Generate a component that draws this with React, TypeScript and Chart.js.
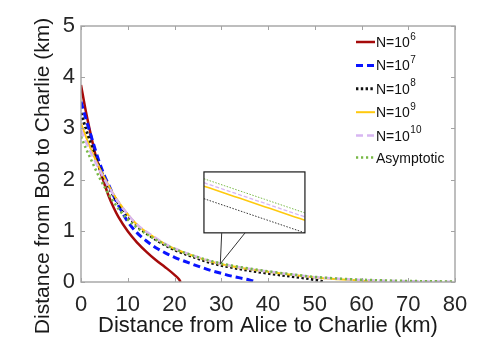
import React, { useEffect, useRef } from "react";
import { Chart, registerables } from "chart.js";

Chart.register(...registerables);

// ---- data ----
const xTickValues = [0, 10, 20, 30, 40, 50, 60, 70, 80];
const yTickValues = [0, 1, 2, 3, 4, 5];

const redX = [0, 1, 2, 3, 4, 5, 6, 7, 8, 10, 12, 14, 16, 18, 20, 21, 21.3];
const redY = [3.85, 3.35, 2.92, 2.52, 2.2, 1.92, 1.66, 1.45, 1.27, 0.99, 0.77, 0.59, 0.43, 0.29, 0.14, 0.05, 0.0];

const blueX = [0, 1, 2, 3, 4, 5, 6, 7, 8, 10, 12, 14, 16, 18, 20, 22, 25, 28, 30, 32, 34, 36, 37.5];
const blueY = [3.52, 3.2, 2.9, 2.6, 2.32, 2.08, 1.88, 1.68, 1.5, 1.18, 0.96, 0.8, 0.67, 0.57, 0.48, 0.41, 0.31, 0.22, 0.17, 0.12, 0.08, 0.04, 0.0];

const blackX = [0, 1, 2, 3, 4, 5, 6, 7, 8, 10, 12, 15, 18, 20, 25, 28, 32, 35, 40, 45, 48, 50, 52];
const blackY = [3.3, 3.0, 2.72, 2.46, 2.23, 2.02, 1.84, 1.68, 1.54, 1.3, 1.1, 0.89, 0.72, 0.63, 0.46, 0.37, 0.29, 0.24, 0.17, 0.11, 0.075, 0.045, 0.0];

const yellowX = [0, 1, 2, 3, 4, 5, 6, 7, 8, 10, 12, 15, 18, 20, 25, 28, 32, 35, 40, 45, 50, 55, 60, 63];
const yellowY = [3.1, 2.85, 2.62, 2.41, 2.22, 2.04, 1.87, 1.71, 1.57, 1.32, 1.12, 0.91, 0.74, 0.65, 0.48, 0.392, 0.312, 0.265, 0.2, 0.14, 0.09, 0.055, 0.025, 0.0];

const purpleX = [0, 1, 2, 3, 4, 5, 6, 7, 8, 10, 12, 15, 18, 20, 25, 28, 32, 35, 40, 45, 50, 55, 60, 65, 70, 75, 80];
const purpleY = [2.97, 2.75, 2.55, 2.36, 2.18, 2.01, 1.85, 1.7, 1.56, 1.32, 1.12, 0.92, 0.745, 0.655, 0.485, 0.398, 0.318, 0.27, 0.205, 0.145, 0.095, 0.062, 0.04, 0.025, 0.015, 0.01, 0.006];

const greenX = [0, 1, 2, 3, 4, 5, 6, 7, 8, 10, 12, 15, 18, 20, 25, 28, 32, 35, 40, 45, 50, 55, 60, 65, 70, 75, 80];
const greenY = [2.84, 2.62, 2.42, 2.22, 2.03, 1.86, 1.7, 1.56, 1.43, 1.22, 1.06, 0.88, 0.73, 0.645, 0.485, 0.405, 0.325, 0.277, 0.21, 0.15, 0.1, 0.067, 0.045, 0.03, 0.02, 0.014, 0.01];

const legendBase = ["N=10", "N=10", "N=10", "N=10", "N=10", "Asymptotic"];
const legendExp = ["6", "7", "8", "9", "10", ""];

// zoom inset: window in data units, box and callout in data units
const insetWindowX = [28.5, 31.5];
const insetWindowY = [0.3, 0.407];
const insetBoxX = [26.3, 47.9];
const insetBoxY = [0.96, 2.15];
const calloutBaseX = [30.1, 35.1];
const calloutTargetX = 29.8;

const FONT = "'Liberation Sans', Arial, Helvetica, sans-serif";

type Style = { color: string; width: number; dash: number[] };
const styles: Style[] = [
  { color: "#a50a0a", width: 2.5, dash: [] },
  { color: "#0a14ff", width: 3, dash: [7, 4] },
  { color: "#111111", width: 3, dash: [2.4, 2.4] },
  { color: "#ffc90e", width: 2, dash: [] },
  { color: "#d8b6f2", width: 2.5, dash: [7, 4] },
  { color: "#78b846", width: 2.5, dash: [2.2, 2.8] },
];

const seriesX = [redX, blueX, blackX, yellowX, purpleX, greenX];
const seriesY = [redY, blueY, blackY, yellowY, purpleY, greenY];

function pts(xs: number[], ys: number[]) {
  return xs.map((x, i) => ({ x, y: ys[i] }));
}

function interp(xs: number[], ys: number[], x: number) {
  for (let i = 0; i < xs.length - 1; i++) {
    if (x >= xs[i] && x <= xs[i + 1]) {
      const t = (x - xs[i]) / (xs[i + 1] - xs[i]);
      return ys[i] + t * (ys[i + 1] - ys[i]);
    }
  }
  return ys[ys.length - 1];
}

const AXIS_GRAY = "#a3a3a3";

const decorPlugin = {
  id: "decor",
  afterDatasetsDraw(chart: any) {
    const { ctx, chartArea: a, scales } = chart;
    const xs = scales.x;
    const ys = scales.y;
    ctx.save();

    // frame
    ctx.strokeStyle = AXIS_GRAY;
    ctx.lineWidth = 1.4;
    ctx.setLineDash([]);
    ctx.strokeRect(a.left, a.top, a.right - a.left, a.bottom - a.top);

    // inward ticks
    ctx.lineWidth = 1;
    ctx.beginPath();
    for (const t of xTickValues) {
      const px = Math.round(xs.getPixelForValue(t)) + 0.5;
      ctx.moveTo(px, a.bottom);
      ctx.lineTo(px, a.bottom - 4);
      ctx.moveTo(px, a.top);
      ctx.lineTo(px, a.top + 4);
    }
    for (const t of yTickValues) {
      const py = Math.round(ys.getPixelForValue(t)) + 0.5;
      ctx.moveTo(a.left, py);
      ctx.lineTo(a.left + 4, py);
      ctx.moveTo(a.right, py);
      ctx.lineTo(a.right - 4, py);
    }
    ctx.stroke();

    // inset
    const bx0 = xs.getPixelForValue(insetBoxX[0]);
    const bx1 = xs.getPixelForValue(insetBoxX[1]);
    const by0 = ys.getPixelForValue(insetBoxY[1]);
    const by1 = ys.getPixelForValue(insetBoxY[0]);
    const tx = xs.getPixelForValue(calloutTargetX);
    const ty = ys.getPixelForValue(interp(yellowX, yellowY, calloutTargetX));
    const c0 = xs.getPixelForValue(calloutBaseX[0]);
    const c1 = xs.getPixelForValue(calloutBaseX[1]);

    ctx.fillStyle = "#ffffff";
    ctx.fillRect(bx0, by0, bx1 - bx0, by1 - by0);

    ctx.save();
    ctx.beginPath();
    ctx.rect(bx0, by0, bx1 - bx0, by1 - by0);
    ctx.clip();
    const insetOrder = [2, 3, 4, 5];
    const insetStyles: Record<number, Style> = {
      2: { color: "#333333", width: 1, dash: [1.5, 1.5] },
      3: { color: "#ffc90e", width: 1.6, dash: [] },
      4: { color: "#d8b6f2", width: 1.3, dash: [4, 2] },
      5: { color: "#78b846", width: 1, dash: [1.5, 1.5] },
    };
    const mapX = (v: number) => bx0 + ((v - insetWindowX[0]) / (insetWindowX[1] - insetWindowX[0])) * (bx1 - bx0);
    const mapY = (v: number) => by1 - ((v - insetWindowY[0]) / (insetWindowY[1] - insetWindowY[0])) * (by1 - by0);
    for (const si of insetOrder) {
      const st = insetStyles[si];
      ctx.strokeStyle = st.color;
      ctx.lineWidth = st.width;
      ctx.setLineDash(st.dash);
      ctx.beginPath();
      const n = 20;
      for (let k = 0; k <= n; k++) {
        const xv = insetWindowX[0] + (k / n) * (insetWindowX[1] - insetWindowX[0]);
        const yv = interp(seriesX[si], seriesY[si], xv);
        const px = mapX(xv);
        const py = mapY(yv);
        if (k === 0) ctx.moveTo(px, py);
        else ctx.lineTo(px, py);
      }
      ctx.stroke();
    }
    ctx.restore();

    ctx.setLineDash([]);
    ctx.strokeStyle = "#1a1a1a";
    ctx.lineWidth = 1.2;
    ctx.strokeRect(bx0, by0, bx1 - bx0, by1 - by0);
    ctx.strokeStyle = "#333333";
    ctx.lineWidth = 1;
    ctx.beginPath();
    ctx.moveTo(c0, by1);
    ctx.lineTo(tx, ty);
    ctx.lineTo(c1, by1);
    ctx.stroke();

    // legend
    const lx0 = a.right - 99;
    const lx1 = a.right - 80;
    const textX = a.right - 79;
    let rowY = a.top + 16;
    for (let i = 0; i < legendBase.length; i++) {
      const st = styles[i];
      ctx.strokeStyle = st.color;
      ctx.lineWidth = st.width;
      ctx.setLineDash(st.dash);
      ctx.beginPath();
      ctx.moveTo(lx0, rowY);
      ctx.lineTo(lx1, rowY);
      ctx.stroke();
      ctx.setLineDash([]);
      ctx.fillStyle = "#111111";
      ctx.textBaseline = "alphabetic";
      ctx.textAlign = "left";
      ctx.font = `14px ${FONT}`;
      const base = legendBase[i];
      ctx.fillText(base, textX, rowY + 5);
      if (legendExp[i]) {
        const w = ctx.measureText(base).width;
        ctx.font = `10px ${FONT}`;
        ctx.fillText(legendExp[i], textX + w + 0.5, rowY - 2.5);
      }
      rowY += i === 4 ? 22 : 23.4;
    }
    ctx.restore();
  },
  afterDraw(chart: any) {
    const { ctx, chartArea: a } = chart;
    ctx.save();
    ctx.fillStyle = "#1a1a1a";
    ctx.textAlign = "center";
    ctx.textBaseline = "alphabetic";
    ctx.font = `22px ${FONT}`;
    ctx.fillText("Distance from Alice to Charlie (km)", (a.left + a.right) / 2, 332);
    ctx.translate(49, 176);
    ctx.rotate(-Math.PI / 2);
    ctx.font = `21px ${FONT}`;
    ctx.fillText("Distance from Bob to Charlie (km)", 0, 0);
    ctx.restore();
  },
};

export default function App() {
  const ref = useRef<HTMLCanvasElement | null>(null);
  useEffect(() => {
    if (!ref.current) return;
    const order = [5, 4, 3, 2, 1, 0];
    const chart = new Chart(ref.current, {
      type: "line",
      data: {
        datasets: seriesX.map((xs, i) => ({
          label: legendBase[i] + legendExp[i],
          data: pts(xs, seriesY[i]),
          borderColor: styles[i].color,
          borderWidth: styles[i].width,
          borderDash: styles[i].dash,
          pointRadius: 0,
          fill: false,
          tension: 0.3,
          cubicInterpolationMode: "monotone" as const,
          order: order[i],
        })),
      },
      options: {
        responsive: false,
        animation: false,
        events: [],
        layout: { padding: { top: 26, right: 30, left: 0, bottom: 0 } },
        plugins: { legend: { display: false }, tooltip: { enabled: false }, title: { display: false } },
        scales: {
          x: {
            type: "linear",
            min: 0,
            max: 80,
            afterFit: (s: any) => {
              s.height = 64;
            },
            afterBuildTicks: (s: any) => {
              s.ticks = xTickValues.map((v) => ({ value: v }));
            },
            grid: { display: false, drawTicks: false },
            border: { display: false },
            ticks: {
              padding: 10,
              color: "#262626",
              font: { family: FONT, size: 22 },
              maxRotation: 0,
              autoSkip: false,
            },
          },
          y: {
            type: "linear",
            min: 0,
            max: 5,
            afterFit: (s: any) => {
              s.width = 81;
            },
            afterBuildTicks: (s: any) => {
              s.ticks = yTickValues.map((v) => ({ value: v }));
            },
            grid: { display: false, drawTicks: false },
            border: { display: false },
            ticks: {
              padding: 6,
              color: "#262626",
              font: { family: FONT, size: 22 },
              autoSkip: false,
            },
          },
        },
      },
      plugins: [decorPlugin],
    });
    return () => chart.destroy();
  }, []);
  return (
    <canvas
      ref={ref}
      width={485}
      height={346}
      style={{ position: "fixed", left: 0, top: 0, width: 485, height: 346, display: "block", background: "#ffffff" }}
    />
  );
}
